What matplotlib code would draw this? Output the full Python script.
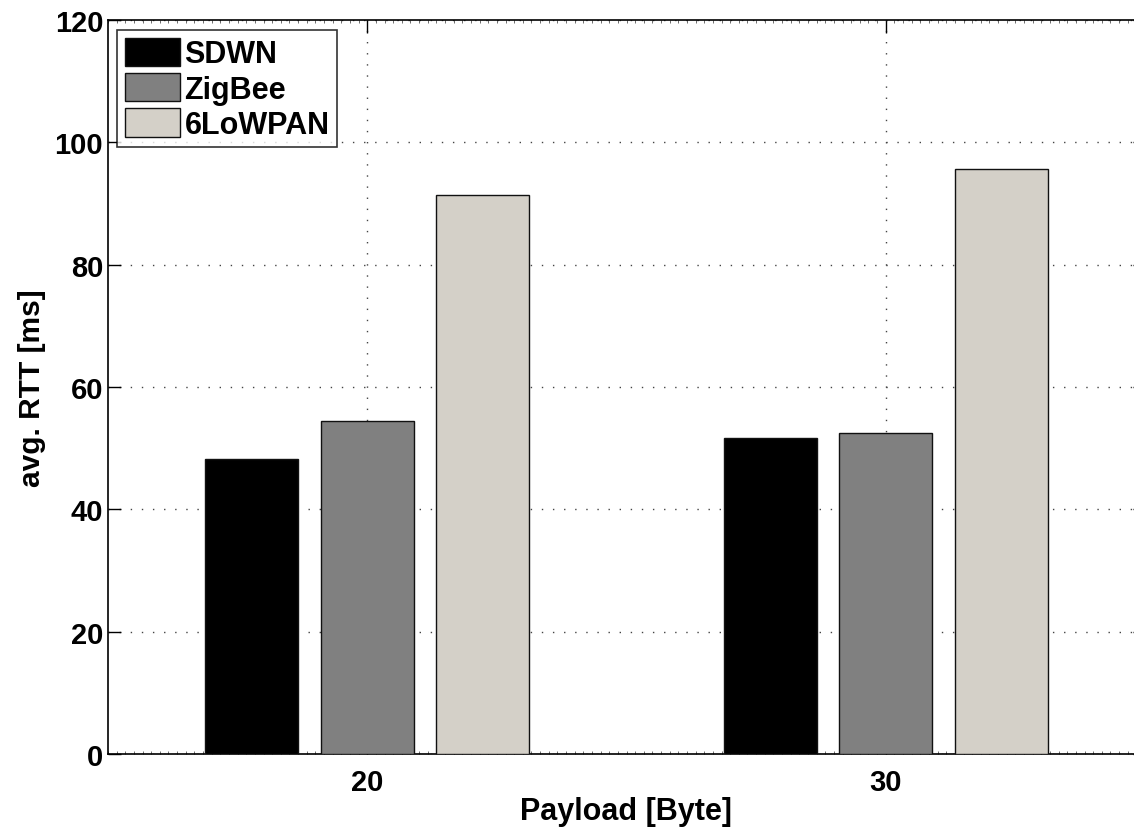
import matplotlib
matplotlib.use("Agg")
import matplotlib.pyplot as plt
import numpy as np
from matplotlib.ticker import MultipleLocator, NullLocator

payloads = [20, 30]
series_names = ["SDWN", "ZigBee", "6LoWPAN"]
sdwn = [48.2, 51.6]
zigbee = [54.5, 52.5]
lowpan = [91.4, 95.6]
colors = ["#000000", "#808080", "#d4d0c8"]

plt.rcParams['font.family'] = ['Liberation Sans', 'DejaVu Sans']
plt.rcParams['font.weight'] = 'bold'

fig = plt.figure(figsize=(11.34, 8.29), dpi=100)
W, H = 1134, 829
left, right, top, bottom = 108, 1145, 21, 755
ax = fig.add_axes([left / W, 1 - bottom / H, (right - left) / W, (bottom - top) / H])

x = np.array(payloads, dtype=float)
offset = 2.23
width = 1.79
for i, (vals, name, c) in enumerate(zip([sdwn, zigbee, lowpan], series_names, colors)):
    ax.bar(x + (i - 1) * offset, vals, width, color=c, edgecolor="#111111",
           linewidth=1.0, label=name, zorder=3)

ax.set_xlim(15, 35)
ax.set_ylim(0, 120)
ax.set_xticks(payloads)
ax.set_yticks(np.arange(0, 121, 20))
ax.yaxis.set_minor_locator(NullLocator())
ax.xaxis.set_minor_locator(MultipleLocator(1 / 6))
ax.tick_params(which='both', direction='in', top=True, right=True)
ax.tick_params(axis='y', labelsize=21)
ax.tick_params(axis='x', labelsize=21, pad=10)
ax.tick_params(which='major', length=9, width=1)
ax.tick_params(which='minor', length=2, width=0.6, color='#555555')
ax.grid(True, which='major', linestyle=(0, (1, 7)), color='#444444', linewidth=1.0, zorder=0)
ax.set_axisbelow(True)

for lbl in ax.get_xticklabels() + ax.get_yticklabels():
    lbl.set_fontweight('bold')

ax.set_xlabel("Payload [Byte]", fontsize=22, fontweight='bold', labelpad=0)
ax.set_ylabel("avg. RTT [ms]", fontsize=21.5, fontweight='bold', labelpad=6)

for s in ax.spines.values():
    s.set_linewidth(1.2)

leg = ax.legend(loc='upper left', bbox_to_anchor=((117 - left) / (right - left), 1 - (31 - top) / (bottom - top)),
                fontsize=22, frameon=True, fancybox=False, borderpad=0.25, labelspacing=0.12,
                handlelength=1.8, handleheight=1.05, handletextpad=0.16, borderaxespad=0)
leg.get_frame().set_edgecolor('black')
leg.get_frame().set_linewidth(1.2)
for t in leg.get_texts():
    t.set_fontweight('bold')

fig.savefig("out.png", dpi=100)
